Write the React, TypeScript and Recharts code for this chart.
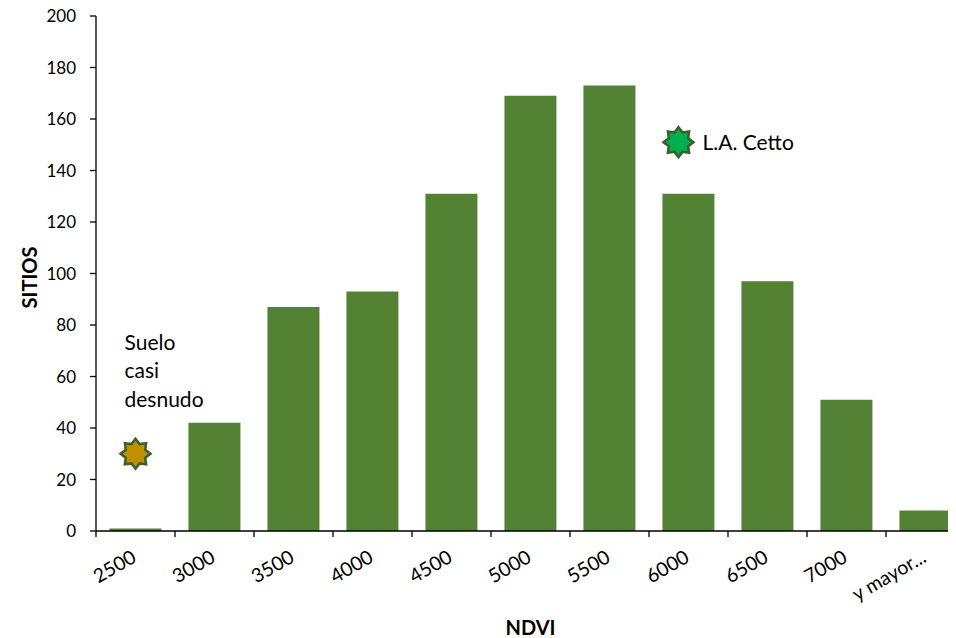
import React from "react";
import { Bar, ComposedChart, Label, Scatter, XAxis, YAxis } from "recharts";

// NDVI bins on the x axis and number of sites per bin
const ndviBins = ["2500", "3000", "3500", "4000", "4500", "5000", "5500", "6000", "6500", "7000", "y mayor..."];
const sitios = [1, 42, 87, 93, 131, 169, 173, 131, 97, 51, 8];

// reference markers (stars) placed on top of some bins
const markerValues = [30, null, null, null, null, null, null, 151, null, null, null];
const markerNotes = [["Suelo", "casi", "desnudo"], [], [], [], [], [], [], ["L.A. Cetto"], [], [], []];
const markerColors = ["#BF9000", "", "", "", "", "", "", "#00B050", "", "", ""];

const yTicks = [0, 20, 40, 60, 80, 100, 120, 140, 160, 180, 200];

const data = ndviBins.map((ndvi, i) => ({
  ndvi,
  sitios: sitios[i],
  marker: markerValues[i],
  notes: markerNotes[i],
  starColor: markerColors[i],
}));

const FONT = "Lato, 'Open Sans', sans-serif";
const BAR_GREEN = "#548235";

function starPoints(cx: number, cy: number, outer: number, inner: number, n: number) {
  const pts: string[] = [];
  for (let i = 0; i < n * 2; i++) {
    const r = i % 2 === 0 ? outer : inner;
    const a = (Math.PI * i) / n - Math.PI / 2;
    pts.push(`${cx + r * Math.cos(a)},${cy + r * Math.sin(a)}`);
  }
  return pts.join(" ");
}

function StarMarker(props: any) {
  const { cx, cy, payload } = props;
  if (payload == null || payload.marker == null || cx == null || cy == null) return <g />;
  const lines: string[] = payload.notes || [];
  // the single-line note sits to the right of its star, the stacked one above
  const side = lines.length === 1;
  const sx = side ? cx - 10 : cx;
  return (
    <g>
      <polygon
        points={starPoints(sx, cy, 15, 10.5, 8)}
        fill={payload.starColor}
        stroke="#3B5E2B"
        strokeWidth={2.5}
        strokeLinejoin="miter"
      />
      {side ? (
        <text x={sx + 24} y={cy + 8} fontFamily={FONT} fontSize={21} fill="#000">
          {lines[0]}
        </text>
      ) : (
        lines.map((t, i) => (
          <text
            key={t}
            x={sx - 11}
            y={cy - 104 + i * 28.5}
            fontFamily={FONT}
            fontSize={21}
            fill="#000"
          >
            {t}
          </text>
        ))
      )}
    </g>
  );
}

function NdviTick(props: any) {
  const { x, y, payload, index } = props;
  const half = payload.offset ?? 39.5;
  const tx = x + 2;
  const ty = y + 30;
  return (
    <g>
      <line x1={x - half} x2={x - half} y1={y} y2={y + 6} stroke="#000" strokeWidth={1.3} />
      {index === ndviBins.length - 1 && (
        <line x1={x + half} x2={x + half} y1={y} y2={y + 6} stroke="#000" strokeWidth={1.3} />
      )}
      <text
        x={tx}
        y={ty}
        transform={`rotate(-30, ${tx}, ${ty})`}
        textAnchor="end"
        style={{ fontFamily: FONT, fontSize: 19.5, fill: "#000" }}
      >
        {payload.value}
      </text>
    </g>
  );
}

function SitiosTitle(props: any) {
  const vb = props.viewBox || {};
  const x = (vb.x ?? 0) + 21;
  const y = (vb.y ?? 0) + (vb.height ?? 0) / 2 + 4;
  return (
    <text
      x={x}
      y={y}
      transform={`rotate(-90, ${x}, ${y})`}
      textAnchor="middle"
      dominantBaseline="central"
      fontFamily={FONT}
      fontWeight="bold"
      fontSize={20}
      fill="#000"
    >
      SITIOS
    </text>
  );
}

export default function App() {
  return (
    <div style={{ width: 948, height: 630, overflow: "hidden" }}>
      <ComposedChart
        width={957}
        height={630}
        data={data}
        margin={{ top: 8, right: 0, bottom: 0, left: 0 }}
        barCategoryGap="17%"
      >
        <XAxis
          dataKey="ndvi"
          height={107}
          tickSize={0}
          tickMargin={0}
          tickLine={false}
          axisLine={{ stroke: "#000", strokeWidth: 1.3 }}
          tick={<NdviTick />}
          interval={0}
        >
          <Label
            value="NDVI"
            position="insideBottom"
            offset={3}
            style={{ fontFamily: FONT, fontWeight: "bold", fontSize: 20, fill: "#000" }}
          />
        </XAxis>
        <YAxis
          width={88}
          domain={[0, 200]}
          ticks={yTicks}
          interval={0}
          tickSize={6}
          tickMargin={14}
          axisLine={{ stroke: "#000", strokeWidth: 1.3 }}
          tickLine={{ stroke: "#000", strokeWidth: 1.3 }}
          tick={{ fontFamily: FONT, fontSize: 17, fill: "#000" }}
        >
          <Label content={<SitiosTitle />} />
        </YAxis>
        <Bar dataKey="sitios" fill={BAR_GREEN} isAnimationActive={false} />
        <Scatter dataKey="marker" shape={<StarMarker />} isAnimationActive={false} />
      </ComposedChart>
    </div>
  );
}
